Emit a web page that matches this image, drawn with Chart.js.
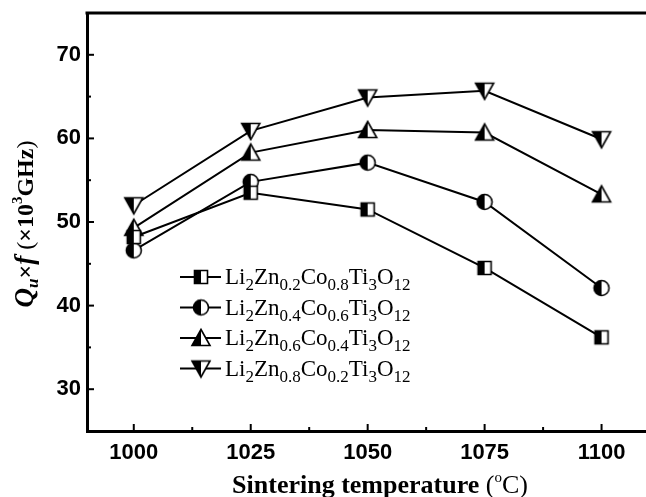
<!DOCTYPE html>
<html>
<head>
<meta charset="utf-8">
<script src="https://cdn.jsdelivr.net/npm/chart.js@4.4.1/dist/chart.umd.min.js"></script>
<style>
  html, body { margin: 0; padding: 0; background: #fff; }
  #qfChart { display: block; }
</style>
</head>
<body>
<canvas id="qfChart" width="646" height="497"></canvas>
<script>
// sintering temperatures (°C)
const temps = [1000, 1025, 1050, 1075, 1100];
// Qu x f values (x10^3 GHz)
const qfZn02 = [48.2, 53.5, 51.5, 44.5, 36.2];
const qfZn04 = [46.6, 54.8, 57.1, 52.4, 42.1];
const qfZn06 = [49.3, 58.3, 61.0, 60.7, 53.3];
const qfZn08 = [52.0, 60.9, 64.9, 65.7, 59.9];
const seriesLabels = [
  "Li2Zn0.2Co0.8Ti3O12",
  "Li2Zn0.4Co0.6Ti3O12",
  "Li2Zn0.6Co0.4Ti3O12",
  "Li2Zn0.8Co0.2Ti3O12",
];
const xTicks = [1000, 1025, 1050, 1075, 1100];
const yTicks = [30, 40, 50, 60, 70];

const SERIF = '"Liberation Serif", "DejaVu Serif", serif';
const SANS = '"Liberation Sans", Arial, sans-serif';

// half filled marker (left half black, right half white)
function makeMarker(shape) {
  const s = 22, c = document.createElement("canvas");
  c.width = s; c.height = s;
  const g = c.getContext("2d");
  const path = new Path2D();
  if (shape === "square") {
    path.rect(4.5, 4.5, 13, 13);
  } else if (shape === "circle") {
    path.arc(11, 11, 7.5, 0, Math.PI * 2);
  } else if (shape === "up") {
    path.moveTo(11, 2.5); path.lineTo(20, 18.5); path.lineTo(2, 18.5); path.closePath();
  } else {
    path.moveTo(2, 3.5); path.lineTo(20, 3.5); path.lineTo(11, 19.5); path.closePath();
  }
  g.fillStyle = "#fff";
  g.fill(path);
  g.save();
  g.beginPath(); g.rect(0, 0, 11, s); g.clip();
  g.fillStyle = "#000";
  g.fill(path);
  g.restore();
  g.lineWidth = 1.6;
  g.strokeStyle = "#000";
  g.stroke(path);
  return c;
}

const markers = [makeMarker("square"), makeMarker("circle"), makeMarker("up"), makeMarker("down")];
const seriesValues = [qfZn02, qfZn04, qfZn06, qfZn08];

// draw a run of text pieces one after the other
function drawRich(ctx, parts, x, y, align) {
  let total = 0;
  parts.forEach(p => { ctx.font = p.font; total += ctx.measureText(p.t).width; });
  let cx = align === "center" ? x - total / 2 : x;
  ctx.textBaseline = "alphabetic";
  ctx.textAlign = "left";
  parts.forEach(p => {
    ctx.font = p.font;
    ctx.fillText(p.t, cx, y + (p.dy || 0));
    cx += ctx.measureText(p.t).width;
  });
}

function formulaParts(label) {
  const parts = [];
  label.match(/[A-Za-z]+|[0-9.]+/g).forEach(tok => {
    if (/^[0-9.]/.test(tok)) parts.push({ t: tok, font: "17px " + SERIF, dy: 6 });
    else parts.push({ t: tok, font: "23px " + SERIF });
  });
  return parts;
}

const framePlugin = {
  id: "frame",
  afterDraw(chart) {
    const ctx = chart.ctx, a = chart.chartArea;
    const xs = chart.scales.x, ys = chart.scales.y;
    ctx.save();
    ctx.strokeStyle = "#000";
    // top border
    ctx.lineWidth = 3;
    ctx.beginPath(); ctx.moveTo(a.left - 1.5, a.top); ctx.lineTo(chart.width, a.top); ctx.stroke();
    // inward ticks
    ctx.lineWidth = 2;
    xTicks.forEach((v, i) => {
      const px = xs.getPixelForValue(v);
      ctx.beginPath(); ctx.moveTo(px, a.bottom); ctx.lineTo(px, a.bottom - 7); ctx.stroke();
      if (i < xTicks.length - 1) {
        const mx = xs.getPixelForValue(v + 12.5);
        ctx.beginPath(); ctx.moveTo(mx, a.bottom); ctx.lineTo(mx, a.bottom - 4); ctx.stroke();
      }
    });
    yTicks.forEach(v => {
      const py = ys.getPixelForValue(v);
      ctx.beginPath(); ctx.moveTo(a.left, py); ctx.lineTo(a.left + 7, py); ctx.stroke();
      const my = ys.getPixelForValue(v + 5);
      ctx.beginPath(); ctx.moveTo(a.left, my); ctx.lineTo(a.left + 4, my); ctx.stroke();
    });

    // legend
    ctx.fillStyle = "#000";
    chart.data.datasets.forEach((ds, i) => {
      const y = 277 + i * 30.5;
      ctx.lineWidth = 2;
      ctx.beginPath(); ctx.moveTo(180, y); ctx.lineTo(221, y); ctx.stroke();
      ctx.drawImage(markers[i], 201 - 11, y - 11);
      drawRich(ctx, formulaParts(ds.label), 225, y + 7, "left");
    });

    // x title
    drawRich(ctx, [
      { t: "Sintering temperature", font: "bold 26px " + SERIF },
      { t: " (", font: "26px " + SERIF },
      { t: "o", font: "15px " + SERIF, dy: -11 },
      { t: "C)", font: "26px " + SERIF },
    ], 380, 493, "center");

    // y title
    ctx.translate(33, 224);
    ctx.rotate(-Math.PI / 2);
    drawRich(ctx, [
      { t: "Q", font: "italic bold 27px " + SERIF },
      { t: "u", font: "italic bold 17px " + SERIF, dy: 5 },
      { t: "×", font: "bold 24px " + SERIF },
      { t: "f", font: "italic bold 27px " + SERIF },
      { t: " (", font: "24px " + SERIF },
      { t: "×10", font: "bold 24px " + SERIF },
      { t: "3", font: "bold 15px " + SERIF, dy: -11 },
      { t: "GHz", font: "bold 24px " + SERIF },
      { t: ")", font: "24px " + SERIF },
    ], 0, 0, "center");
    ctx.restore();
  },
};

const datasets = seriesValues.map((vals, i) => ({
  label: seriesLabels[i],
  data: temps.map((t, j) => ({ x: t, y: vals[j] })),
  borderColor: "#000",
  borderWidth: 2,
  pointStyle: markers[i],
  pointRadius: 9,
  pointHoverRadius: 9,
  tension: 0,
}));

new Chart(document.getElementById("qfChart"), {
  type: "line",
  data: { datasets: datasets },
  options: {
    responsive: false,
    animation: false,
    events: [],
    layout: { autoPadding: false, padding: { top: 13, right: 0, left: 0, bottom: 0 } },
    plugins: { legend: { display: false }, tooltip: { enabled: false } },
    scales: {
      x: {
        type: "linear",
        min: 990,
        max: 1109.5,
        afterBuildTicks: s => { s.ticks = xTicks.map(v => ({ value: v })); },
        afterFit: s => { s.height = 66; s.paddingLeft = 0; s.paddingRight = 0; },
        grid: { display: false, drawTicks: false },
        border: { display: true, color: "#000", width: 3 },
        ticks: {
          padding: 9,
          color: "#000",
          font: { family: SANS, size: 22, weight: "bold" },
          maxRotation: 0,
          callback: v => String(v),
        },
      },
      y: {
        min: 25,
        max: 75,
        afterBuildTicks: s => { s.ticks = yTicks.map(v => ({ value: v })); },
        afterFit: s => { s.width = 87; s.paddingTop = 0; s.paddingBottom = 0; },
        grid: { display: false, drawTicks: false },
        border: { display: true, color: "#000", width: 3 },
        ticks: {
          padding: 6,
          color: "#000",
          font: { family: SANS, size: 22, weight: "bold" },
          callback: v => String(v),
        },
      },
    },
  },
  plugins: [framePlugin],
});
</script>
</body>
</html>
